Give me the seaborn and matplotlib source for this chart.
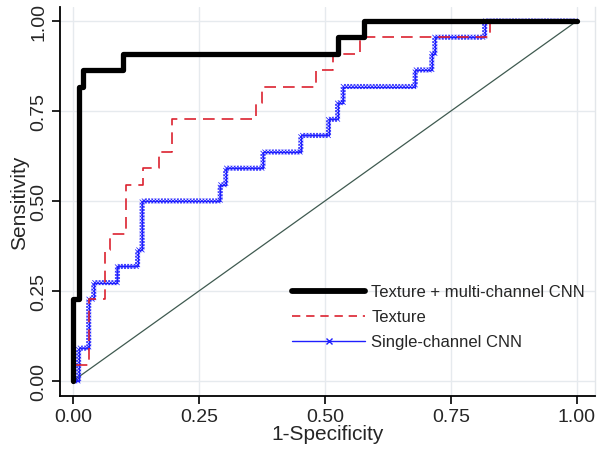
import matplotlib
matplotlib.use("Agg")
import matplotlib.pyplot as plt
import seaborn as sns
import numpy as np
from matplotlib.lines import Line2D
from matplotlib import patheffects as pe

# ROC step points: at each fpr value the sensitivity jumps to tpr
combo_fpr = [0.0, 0.0, 0.012, 0.020, 0.100, 0.525, 0.578, 1.0]
combo_tpr = [0.0, 0.227, 0.818, 0.864, 0.909, 0.955, 1.0, 1.0]

texture_fpr = [0.0, 0.0, 0.032, 0.063, 0.073, 0.106, 0.139, 0.171, 0.197,
               0.364, 0.374, 0.482, 0.516, 0.569, 0.827, 1.0]
texture_tpr = [0.0, 0.045, 0.227, 0.364, 0.409, 0.545, 0.591, 0.636, 0.727,
               0.773, 0.818, 0.864, 0.909, 0.955, 1.0, 1.0]

single_fpr = [0.0, 0.011, 0.031, 0.041, 0.088, 0.128, 0.137, 0.292, 0.303,
              0.377, 0.452, 0.507, 0.525, 0.536, 0.679, 0.712, 0.718, 0.817, 1.0]
single_tpr = [0.0, 0.091, 0.227, 0.273, 0.318, 0.364, 0.500, 0.545, 0.591,
              0.636, 0.682, 0.727, 0.773, 0.818, 0.864, 0.909, 0.955, 1.0, 1.0]

ref_x = [0.0, 1.0]
ref_y = [0.0, 1.0]

series_labels = ["Texture + multi-channel CNN", "Texture", "Single-channel CNN"]
tick_vals = [0.0, 0.25, 0.5, 0.75, 1.0]
tick_labels = ["0.00", "0.25", "0.50", "0.75", "1.00"]

sns.set_style("white")
plt.rcParams['font.family'] = ['Liberation Sans', 'DejaVu Sans']

fig = plt.figure(figsize=(6.0, 4.64), dpi=100)
ax = fig.add_axes([0.100, 0.1444, 0.8917, 0.8384])

grid_c = "#e6eaee"
for v in tick_vals:
    ax.axhline(v, color=grid_c, lw=1.0, zorder=0)
    ax.axvline(v, color=grid_c, lw=1.0, zorder=0)

sns.lineplot(x=ref_x, y=ref_y, ax=ax, color="#3f5a50", lw=0.9,
             estimator=None, sort=False, zorder=1)

blue = "#1f1fff"
x_effects = [pe.Normal()]
for ang in (45, 135, -45, -135):
    x_effects.append(pe.TickedStroke(spacing=2.3, angle=ang, length=1.0,
                                     linewidth=0.55, foreground=blue))
sns.lineplot(x=single_fpr, y=single_tpr, ax=ax, color=blue, lw=1.0,
             estimator=None, sort=False, drawstyle="steps-post",
             path_effects=x_effects, zorder=2)

red = "#dc2230"
sns.lineplot(x=texture_fpr, y=texture_tpr, ax=ax, color=red, lw=1.2,
             estimator=None, sort=False, drawstyle="steps-post",
             dashes=False, zorder=3)
ax.lines[-1].set_linestyle((0, (7.0, 4.2)))

sns.lineplot(x=combo_fpr, y=combo_tpr, ax=ax, color="black", lw=3.8,
             estimator=None, sort=False, drawstyle="steps-post", zorder=4)

ax.set_xlim(-0.026, 1.036)
ax.set_ylim(-0.042, 1.039)
ax.set_xticks(tick_vals)
ax.set_xticklabels(tick_labels)
ax.set_yticks(tick_vals)
ax.set_yticklabels(tick_labels, rotation=90, va="center")
ax.tick_params(axis="both", labelsize=14, length=6, width=1.2, direction="out",
               color="black", pad=3, bottom=True, left=True)
ax.set_xlabel("1-Specificity", fontsize=15, labelpad=-1)
ax.set_ylabel("Sensitivity", fontsize=15, labelpad=1)

for s in ("left", "bottom"):
    ax.spines[s].set_color("black")
    ax.spines[s].set_linewidth(1.3)
ax.spines["top"].set_visible(False)
ax.spines["right"].set_color("#e3e6ea")
ax.spines["right"].set_linewidth(1.0)

handles = [
    Line2D([], [], color="black", lw=4.2),
    Line2D([], [], color=red, lw=1.2, linestyle=(0, (5.0, 3.5))),
    Line2D([], [], color=blue, lw=1.0, marker="x", markersize=4, markeredgewidth=1.0),
]
leg = ax.legend(handles, series_labels, loc="lower right",
                bbox_to_anchor=(1.0, 0.094), frameon=False, fontsize=12,
                handlelength=4.4, handletextpad=0.35, labelspacing=0.6,
                borderaxespad=0.2)

fig.savefig("out.png", dpi=100)
